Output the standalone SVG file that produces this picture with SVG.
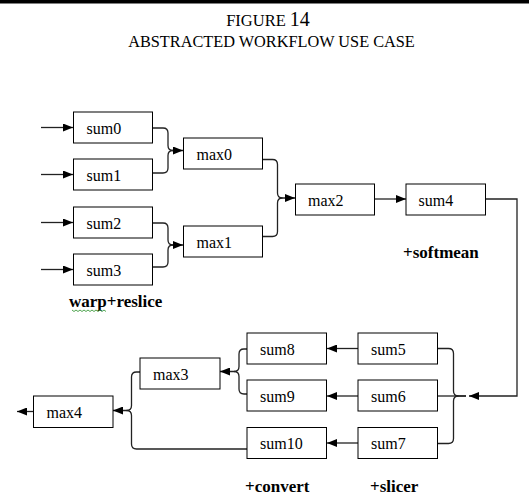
<svg xmlns="http://www.w3.org/2000/svg" width="529" height="497" viewBox="0 0 529 497">
<defs>
<marker id="ah" viewBox="0 0 10 8" refX="10" refY="4" markerWidth="10" markerHeight="8" markerUnits="userSpaceOnUse" orient="auto">
<path d="M0,0 L10,4 L0,8 z" fill="#000"/>
</marker>
<style>
.box{fill:#fff;stroke:#000;stroke-width:1}
.t{font-family:"Liberation Serif","Times New Roman",serif;font-size:16px;fill:#000}
.lbl{font-family:"Liberation Serif","Times New Roman",serif;font-size:17px;font-weight:bold;fill:#000}
.c{fill:none;stroke:#222;stroke-width:1.3}
.ttl{font-family:"Liberation Serif","Times New Roman",serif;fill:#000}
</style>
</defs>
<rect x="0" y="0" width="529" height="497" fill="#fff"/>
<rect x="0" y="0" width="529" height="3.5" fill="#000"/>
<text class="ttl" x="268" y="26" text-anchor="middle" font-size="16.5">FIGURE <tspan font-size="20">14</tspan></text>
<text class="ttl" x="271.5" y="46.5" text-anchor="middle" font-size="16.3">ABSTRACTED WORKFLOW USE CASE</text>

<g id="connectors">
<path class="c" d="M41,127.5 H73" marker-end="url(#ah)"/>
<path class="c" d="M41,174.5 H73" marker-end="url(#ah)"/>
<path class="c" d="M41,222.5 H73" marker-end="url(#ah)"/>
<path class="c" d="M41,269.5 H73" marker-end="url(#ah)"/>
<path class="c" d="M153,128 H163 Q168,128 168,133 V145.5 Q168,150.5 173,150.5 H183" marker-end="url(#ah)"/>
<path class="c" d="M153,173 H163 Q168,173 168,168 V155.5 Q168,150.5 173,150.5"/>
<path class="c" d="M153,223 H163 Q168,223 168,228 V240 Q168,245 173,245 H183" marker-end="url(#ah)"/>
<path class="c" d="M153,267 H163 Q168,267 168,262 V250 Q168,245 173,245"/>
<path class="c" d="M263,159.5 H272.5 Q277.5,159.5 277.5,164.5 V193 Q277.5,198 282.5,198 H295" marker-end="url(#ah)"/>
<path class="c" d="M263,236.5 H272.5 Q277.5,236.5 277.5,231.5 V203 Q277.5,198 282.5,198"/>
<path class="c" d="M375,199 H406" marker-end="url(#ah)"/>
<path class="c" d="M486,199 H517 V396 H469" marker-end="url(#ah)"/>
<path class="c" d="M438,348.5 H448.5 Q453.5,348.5 453.5,353.5 V391 Q453.5,396 458.5,396 H466"/>
<path class="c" d="M438,396 H466"/>
<path class="c" d="M438,443.5 H448.5 Q453.5,443.5 453.5,438.5 V401 Q453.5,396 458.5,396"/>
<path class="c" d="M358,348.5 H327" marker-end="url(#ah)"/>
<path class="c" d="M358,396 H327" marker-end="url(#ah)"/>
<path class="c" d="M358,443 H327" marker-end="url(#ah)"/>
<path class="c" d="M247,349 H244 Q239,349 239,354 V366.5 Q239,371.5 234,371.5 H220" marker-end="url(#ah)"/>
<path class="c" d="M247,394 H244 Q239,394 239,389 V376.5 Q239,371.5 234,371.5"/>
<path class="c" d="M140,372 H136.5 Q131.5,372 131.5,377 V405.5 Q131.5,410.5 126.5,410.5 H113" marker-end="url(#ah)"/>
<path class="c" d="M247,449 H136.5 Q131.5,449 131.5,444 V415.5 Q131.5,410.5 126.5,410.5"/>
<path class="c" d="M33,411.5 H17" marker-end="url(#ah)"/>
</g>

<g id="sum0"><rect class="box" x="73.5" y="112" width="79" height="31"/><text class="t" x="86.5" y="133.5">sum0</text></g>
<g id="sum1"><rect class="box" x="73.5" y="159" width="79" height="31"/><text class="t" x="86.5" y="180.5">sum1</text></g>
<g id="sum2"><rect class="box" x="73.5" y="207" width="79" height="31"/><text class="t" x="86.5" y="228.5">sum2</text></g>
<g id="sum3"><rect class="box" x="73.5" y="254" width="79" height="31"/><text class="t" x="86.5" y="275.5">sum3</text></g>
<g id="max0"><rect class="box" x="183.5" y="138" width="79" height="31"/><text class="t" x="196.5" y="159.5">max0</text></g>
<g id="max1"><rect class="box" x="183.5" y="226" width="79" height="31"/><text class="t" x="196.5" y="247.5">max1</text></g>
<g id="max2"><rect class="box" x="295.5" y="184" width="79" height="31"/><text class="t" x="308" y="205.5">max2</text></g>
<g id="sum4"><rect class="box" x="406" y="184" width="79.5" height="31"/><text class="t" x="418.5" y="205.5">sum4</text></g>
<g id="sum8"><rect class="box" x="247" y="333" width="79.5" height="31"/><text class="t" x="260" y="354.5">sum8</text></g>
<g id="sum5"><rect class="box" x="358" y="333" width="79.5" height="31"/><text class="t" x="371" y="354.5">sum5</text></g>
<g id="sum9"><rect class="box" x="247" y="380" width="79.5" height="31"/><text class="t" x="260" y="401.5">sum9</text></g>
<g id="sum6"><rect class="box" x="358" y="380" width="79.5" height="31"/><text class="t" x="371" y="401.5">sum6</text></g>
<g id="sum10"><rect class="box" x="247" y="427.5" width="79.5" height="31"/><text class="t" x="260" y="449">sum10</text></g>
<g id="sum7"><rect class="box" x="358" y="427.5" width="79.5" height="31"/><text class="t" x="371" y="449">sum7</text></g>
<g id="max3"><rect class="box" x="140" y="358" width="80" height="31"/><text class="t" x="153" y="379.5">max3</text></g>
<g id="max4"><rect class="box" x="33.5" y="396" width="79.5" height="31.5"/><text class="t" x="46.5" y="418">max4</text></g>

<g id="labels">
<text class="lbl" x="69" y="306.5">warp+reslice</text>
<path d="M72,310 l2,1.5 l2,-1.5 l2,1.5 l2,-1.5 l2,1.5 l2,-1.5 l2,1.5 l2,-1.5 l2,1.5 l2,-1.5 l2,1.5 l2,-1.5 l2,1.5 l2,-1.5 l2,1.5 l2,-1.5 l2,1.5" fill="none" stroke="#3c9a3c" stroke-width="0.9"/>
<text class="lbl" x="403" y="258">+softmean</text>
<text class="lbl" x="245" y="491.5">+convert</text>
<text class="lbl" x="370" y="491.5">+slicer</text>
</g>
</svg>
